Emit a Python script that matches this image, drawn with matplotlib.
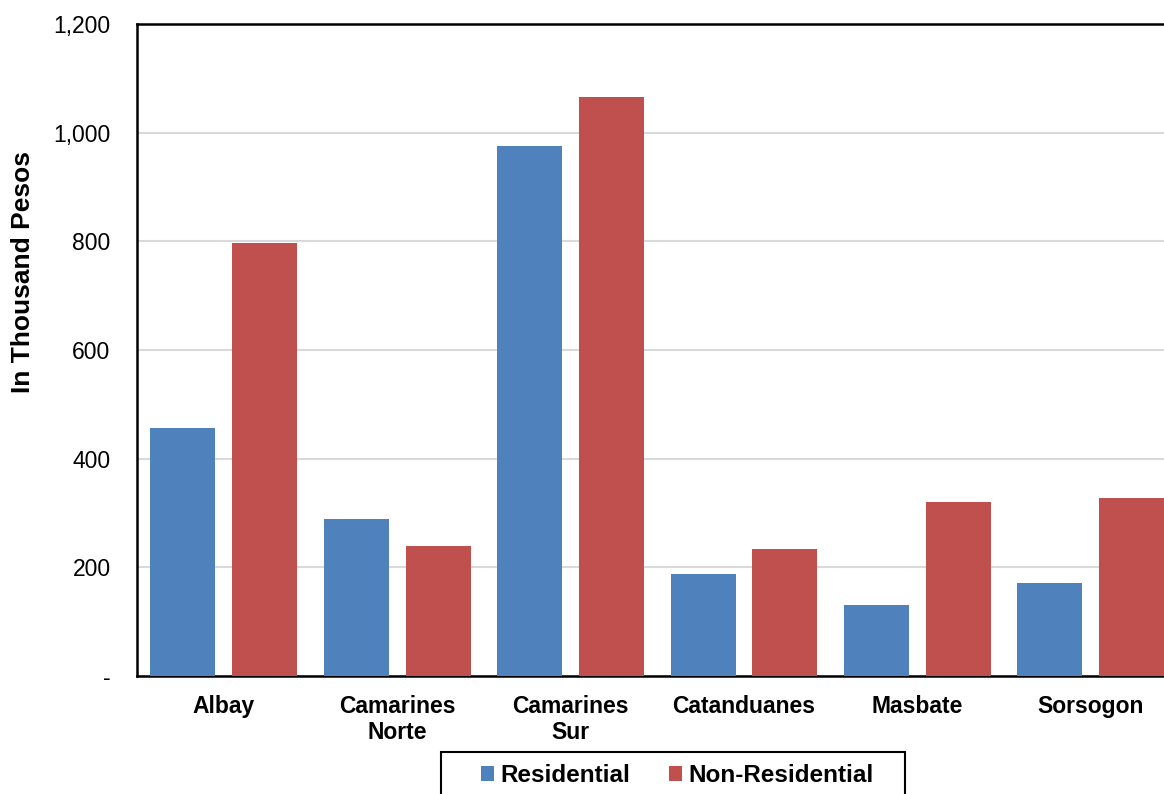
import numpy as np
import matplotlib.pyplot as plt
from matplotlib.ticker import FuncFormatter
from matplotlib.patches import Rectangle

plt.rcParams['font.family'] = ['Liberation Sans', 'DejaVu Sans']

provinces = ["Albay", "Camarines\nNorte", "Camarines\nSur", "Catanduanes", "Masbate", "Sorsogon"]
residential = [456, 289, 975, 188, 131, 171]
non_residential = [797, 239, 1066, 234, 320, 328]

fig = plt.figure(figsize=(11.64, 7.94), dpi=100)
ax = fig.add_axes([0.1177, 0.1486, 0.894, 0.8212])

x = np.arange(len(provinces))
w = 0.375
ax.bar(x - 0.236, residential, w, color="#4f81bd", label="Residential", zorder=3)
ax.bar(x + 0.236, non_residential, w, color="#c0504d", label="Non-Residential", zorder=3)

ax.set_xlim(-0.5, len(provinces) - 0.5)
ax.set_ylim(0, 1200)
ax.set_yticks(np.arange(0, 1201, 200))
ax.yaxis.set_major_formatter(FuncFormatter(lambda v, p: "-" if v == 0 else f"{int(v):,}"))
ax.set_xticks(x)
ax.set_xticklabels(provinces, fontweight="bold", linespacing=1.15)
ax.tick_params(axis="both", length=0)
ax.tick_params(axis="y", pad=19, labelsize=16.5)
ax.tick_params(axis="x", pad=14, labelsize=16.5)
ax.grid(axis="y", color="#d9d9d9", linewidth=1.5, zorder=0)

for s in ["left", "top", "bottom"]:
    ax.spines[s].set_linewidth(1.8)
    ax.spines[s].set_color("black")
ax.spines["right"].set_visible(False)

ax.set_ylabel("In Thousand Pesos", fontsize=19, fontweight="bold")
ax.yaxis.set_label_coords(-0.098, 0.62)

# legend box drawn by hand so it can be wider than its contents
fig.patches.append(Rectangle((441 / 1164, -0.05), 464 / 1164, 0.05 + 1 - 752 / 794,
                             transform=fig.transFigure, fill=False,
                             edgecolor="black", linewidth=1.5))
fig.legend(loc="upper center", bbox_to_anchor=(677 / 1164, 1 - 752 / 794), ncol=2,
           prop={"weight": "bold", "size": 17.5}, frameon=False,
           handlelength=0.55, handleheight=0.55,
           handletextpad=0.25, columnspacing=1.6, borderpad=0.5,
           borderaxespad=0)

fig.savefig("out.png", dpi=100)
